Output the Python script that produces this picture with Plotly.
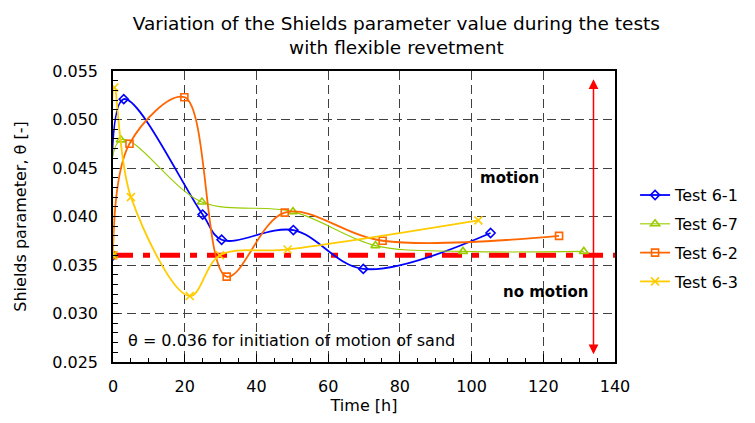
import plotly.graph_objects as go

# Data
t_61 = [0, 3, 25, 30.3, 50.3, 69.8, 105.3]
v_61 = [0.036, 0.0521, 0.0402, 0.0376, 0.0386, 0.0346, 0.0383]

t_67 = [0, 2.2, 24.8, 50.2, 73.2, 97.6, 131.3]
v_67 = [0.036, 0.0479, 0.0415, 0.0405, 0.0370, 0.0364, 0.0364]

t_62 = [0, 4.6, 19.9, 31.7, 47.9, 75.2, 124.4]
v_62 = [0.036, 0.0475, 0.0523, 0.0338, 0.0404, 0.0375, 0.0380]

t_63 = [0, 0.4, 5.0, 21.4, 29.8, 48.7, 101.9]
v_63 = [0.036, 0.0533, 0.0420, 0.0318, 0.0360, 0.0366, 0.0396]

threshold = 0.036
threshold_t = [0, 140]
arrow_t = 134
arrow_top = 0.0543
arrow_bottom = 0.0258

series = [
    ("Test 6-1", t_61, v_61, "#0000FF", "diamond-open", 1.8, 7),
    ("Test 6-7", t_67, v_67, "#99CC00", "triangle-up-open", 1.1, 8),
    ("Test 6-2", t_62, v_62, "#FF6600", "square-open", 1.8, 7),
    ("Test 6-3", t_63, v_63, "#FFCC00", "x-thin-open", 1.8, 8),
]

FONT = "DejaVu Sans, Verdana, sans-serif"

fig = go.Figure()

fig.add_trace(go.Scatter(
    x=threshold_t, y=[threshold, threshold], mode="lines",
    line=dict(color="#FF0000", width=5, dash="20px,10px,7px,10px"),
    showlegend=False, hoverinfo="skip"))

for name, tx, vy, col, sym, lw, ms in series:
    fig.add_trace(go.Scatter(
        x=tx, y=vy, name=name, mode="lines+markers", legendgroup=name,
        line=dict(color=col, width=lw, shape="spline", smoothing=1.0),
        marker=dict(symbol=sym, size=ms, color=col, line=dict(color=col, width=1.6)),
    ))

# Double-headed arrow
fig.add_annotation(x=arrow_t, y=arrow_bottom, ax=arrow_t, ay=arrow_top,
                   xref="x", yref="y", axref="x", ayref="y",
                   showarrow=True, arrowhead=2, arrowside="end+start",
                   arrowsize=1.3, arrowwidth=1.5, arrowcolor="#FF0000", text="")

fig.add_annotation(x=110.6, y=0.0440, xref="x", yref="y", text="<b>motion</b>",
                   showarrow=False, font=dict(size=15, color="black"))
fig.add_annotation(x=120.5, y=0.0322, xref="x", yref="y", text="<b>no motion</b>",
                   showarrow=False, font=dict(size=15, color="black"))
fig.add_annotation(x=3.6, y=0.0272, xref="x", yref="y",
                   text="θ = 0.036 for initiation of motion of sand",
                   showarrow=False, xanchor="left", font=dict(size=16, color="black"))

fig.update_layout(
    width=755, height=423,
    paper_bgcolor="white", plot_bgcolor="white",
    font=dict(family=FONT, size=16, color="black"),
    margin=dict(l=113, r=140, t=71, b=61, autoexpand=False),
    title=dict(text="Variation of the Shields parameter value during the tests<br>with flexible revetment",
               x=0.525, xanchor="center", y=0.93, yanchor="top",
               font=dict(size=18.5, color="black")),
    legend=dict(x=1.04, y=0.424, xanchor="left", yanchor="middle",
                font=dict(size=16), tracegroupgap=5,
                bgcolor="rgba(0,0,0,0)"),
    showlegend=True,
)

fig.update_xaxes(
    range=[0, 140], dtick=20, tick0=0, automargin=False,
    title=dict(text="Time [h]", font=dict(size=16), standoff=5),
    showgrid=True, gridcolor="#404040", griddash="9px,5px", gridwidth=1,
    showline=True, linecolor="black", linewidth=1.5, mirror=True,
    ticks="inside", ticklen=8, tickcolor="black", ticklabelstandoff=9,
    minor=dict(dtick=5, ticks="inside", ticklen=4, tickcolor="black", showgrid=False),
    zeroline=False, tickfont=dict(size=16),
)
fig.update_yaxes(
    range=[0.025, 0.055], dtick=0.005, tick0=0.025, tickformat=".3f", automargin=False,
    title=dict(text="Shields parameter, θ [-]", font=dict(size=16), standoff=22),
    showgrid=True, gridcolor="#404040", griddash="9px,5px", gridwidth=1,
    showline=True, linecolor="black", linewidth=1.5, mirror=True,
    ticks="inside", ticklen=6, tickcolor="black", ticklabelstandoff=10,
    minor=dict(dtick=0.001, ticks="inside", ticklen=5, tickcolor="black", showgrid=False),
    zeroline=False, tickfont=dict(size=16),
)

fig.write_html("out.html", config={"displayModeBar": False},
               post_script="document.body.style.margin='0';document.body.style.overflow='hidden';")
